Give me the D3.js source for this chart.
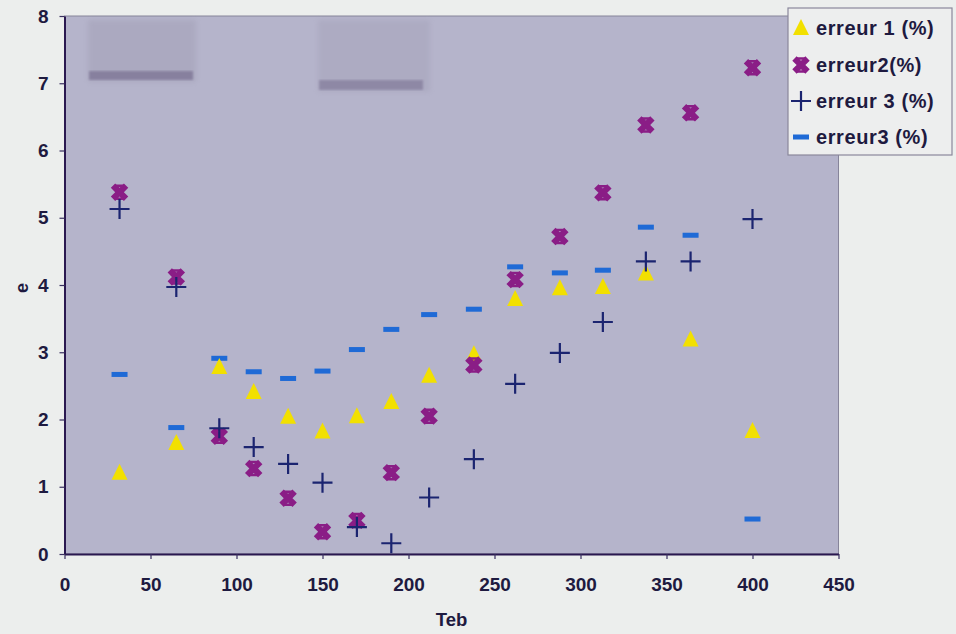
<!DOCTYPE html>
<html><head><meta charset="utf-8">
<script src="https://cdn.jsdelivr.net/npm/d3@7"></script>
<style>body{margin:0;background:#eceeed;}svg{display:block;}</style>
</head><body><svg id="c" width="956" height="634"></svg>
<script>
const tebValues = [32, 65, 90, 110, 130, 150, 170, 190, 212, 238, 262, 288, 313, 338, 364, 400];
const erreur1 = [1.21, 1.65, 2.78, 2.41, 2.04, 1.82, 2.05, 2.26, 2.65, 2.97, 3.79, 3.95, 3.97, 4.17, 3.19, 1.83];
const erreur2 = [5.38, 4.12, 1.75, 1.27, 0.83, 0.33, 0.5, 1.21, 2.05, 2.81, 4.08, 4.72, 5.37, 6.38, 6.56, 7.23];
const erreur3a = [5.13, 3.97, 1.87, 1.59, 1.34, 1.06, 0.4, 0.16, 0.84, 1.41, 2.53, 2.99, 3.45, 4.35, 4.35, 4.98];
const erreur3b = [2.67, 1.88, 2.91, 2.71, 2.61, 2.72, 3.04, 3.34, 3.56, 3.64, 4.27, 4.18, 4.22, 4.86, 4.74, 0.52];
const seriesNames = ["erreur 1 (%)", "erreur2(%)", "erreur 3 (%)", "erreur3 (%)"];
const xTicks = [0, 50, 100, 150, 200, 250, 300, 350, 400, 450];
const yTicks = [0, 1, 2, 3, 4, 5, 6, 7, 8];

const svg = d3.select("#c");
const L = 64.5, R = 838.5, T = 16, B = 554;
const x = d3.scaleLinear().domain([0, 450]).range([L, R]);
const y = d3.scaleLinear().domain([0, 8]).range([B, T]);
const textCol = "#1e1a40";
const font = "'Liberation Sans', Arial, sans-serif";

const defs = svg.append("defs");
defs.append("filter").attr("id", "blur").append("feGaussianBlur").attr("stdDeviation", 2.5);
defs.append("filter").attr("id", "blur2").append("feGaussianBlur").attr("stdDeviation", 1.2);

svg.append("rect").attr("x", L).attr("y", T).attr("width", R - L).attr("height", B - T)
  .attr("fill", "#b5b4cb").attr("stroke", "#86849a").attr("stroke-width", 1);

// scanner smudges
const sm = svg.append("g");
sm.append("rect").attr("x", 88).attr("y", 20).attr("width", 108).attr("height", 62).attr("fill", "#8e8aa0").attr("opacity", 0.25).attr("filter", "url(#blur)");
sm.append("rect").attr("x", 89).attr("y", 71).attr("width", 104).attr("height", 9).attr("fill", "#6a5f84").attr("opacity", 0.55).attr("filter", "url(#blur2)");
sm.append("rect").attr("x", 318).attr("y", 20).attr("width", 112).attr("height", 72).attr("fill", "#8e8aa0").attr("opacity", 0.2).attr("filter", "url(#blur)");
sm.append("rect").attr("x", 319).attr("y", 80).attr("width", 104).attr("height", 10).attr("fill", "#6a5f84").attr("opacity", 0.45).attr("filter", "url(#blur2)");

// axes
const xa = svg.append("g").attr("transform", `translate(0,${B})`)
  .call(d3.axisBottom(x).tickValues(xTicks).tickSize(5).tickPadding(19).tickSizeOuter(0));
const ya = svg.append("g").attr("transform", `translate(${L},0)`)
  .call(d3.axisLeft(y).tickValues(yTicks).tickSize(5).tickPadding(11).tickSizeOuter(0));
[xa, ya].forEach(a => {
  a.select(".domain").attr("stroke", "#2a1850").attr("stroke-width", 2);
  a.selectAll(".tick line").attr("stroke", "#3a3060").attr("stroke-width", 1.2);
  a.selectAll(".tick text").attr("fill", textCol).attr("font-family", font)
    .attr("font-size", 19).attr("font-weight", "bold");
});

svg.append("text").attr("x", x(225)).attr("y", 626).attr("text-anchor", "middle")
  .attr("font-family", font).attr("font-size", 18.5).attr("font-weight", "bold").attr("fill", textCol).text("Teb");
svg.append("text").attr("transform", "translate(28,288) rotate(-90)").attr("text-anchor", "middle")
  .attr("font-family", font).attr("font-size", 18).attr("font-weight", "bold").attr("fill", textCol).text("e");

// marker drawers
const crossPath = d3.symbol(d3.symbolCross, 190)();
function tri(g, cx, cy) {
  g.append("path").attr("d", `M${cx},${cy-9}L${cx+8},${cy+7}L${cx-8},${cy+7}Z`).attr("fill", "#f2e000");
}
function star(g, cx, cy) {
  g.append("path").attr("d", crossPath).attr("transform", `translate(${cx},${cy}) rotate(45)`)
    .attr("fill", "#8a1d86");
  g.append("path").attr("d", `M${cx-4},${cy-6.5}L${cx+4},${cy-6.5}M${cx-4},${cy+6.5}L${cx+4},${cy+6.5}`)
    .attr("stroke", "#8a1d86").attr("stroke-width", 2.5).attr("fill", "none");
}
function plus(g, cx, cy) {
  g.append("path").attr("d", `M${cx-10},${cy}L${cx+10},${cy}M${cx},${cy-10}L${cx},${cy+10}`)
    .attr("stroke", "#1b2470").attr("stroke-width", 2.2).attr("fill", "none");
}
function dash(g, cx, cy) {
  g.append("rect").attr("x", cx - 8).attr("y", cy - 2.5).attr("width", 16).attr("height", 5).attr("fill", "#1f6ad6");
}
const drawers = [tri, star, plus, dash];
const allSeries = [erreur1, erreur2, erreur3a, erreur3b];

const pts = svg.append("g");
[3, 0, 1, 2].forEach(si => {
  allSeries[si].forEach((v, i) => drawers[si](pts, x(tebValues[i]), y(v)));
});

// legend
const lg = svg.append("g");
lg.append("rect").attr("x", 788).attr("y", 8).attr("width", 164).attr("height", 147)
  .attr("fill", "#edeeee").attr("stroke", "#8a889c").attr("stroke-width", 1.2);
const legY = [28, 65, 101, 137];
seriesNames.forEach((n, i) => {
  drawers[i](lg, 801, legY[i]);
  lg.append("text").attr("x", 816).attr("y", legY[i] + 7).attr("font-family", font)
    .attr("font-size", 20).attr("font-weight", "bold").attr("letter-spacing", 0.6).attr("fill", textCol).text(n);
});
</script></body></html>
